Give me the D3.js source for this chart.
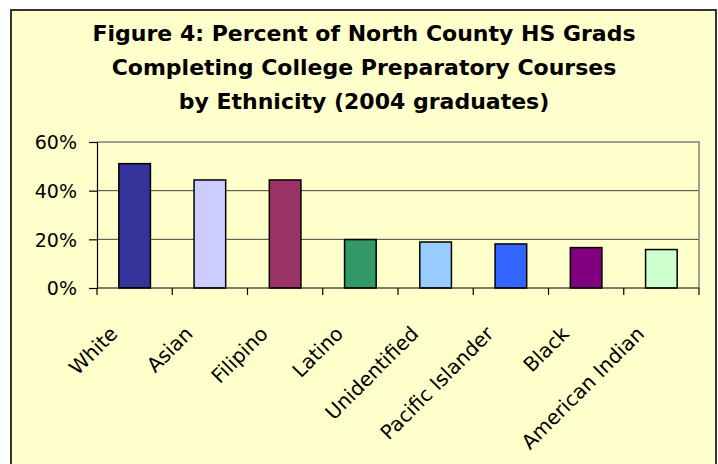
<!DOCTYPE html>
<html>
<head>
<meta charset="utf-8">
<script src="https://cdn.jsdelivr.net/npm/d3@7"></script>
<style>
  body { margin: 0; background: #fff; }
  svg { display: block; }
</style>
</head>
<body>
<svg id="chart"></svg>
<script>
// data
const groups = ["White", "Asian", "Filipino", "Latino", "Unidentified", "Pacific Islander", "Black", "American Indian"];
const percents = [51.1, 44.4, 44.4, 19.9, 18.9, 18.1, 16.6, 15.8];
const barColors = ["#333399", "#ccccff", "#993366", "#339966", "#99ccff", "#3366ff", "#800080", "#ccffcc"];
const yTicks = [0, 20, 40, 60];
const titleLines = [
    "Figure 4: Percent of North County HS Grads",
    "Completing College Preparatory Courses",
    "by Ethnicity (2004 graduates)"
];

const w = 718, h = 464;
const margin = { top: 142, right: 19, bottom: 176, left: 97 };
const fontFamily = "'DejaVu Sans', sans-serif";

const svg = d3.select("#chart")
    .attr("width", w)
    .attr("height", h);

// chart area background + frame
svg.append("rect")
    .attr("x", 11).attr("y", 10)
    .attr("width", 705).attr("height", 470)
    .attr("fill", "#ffffcc")
    .attr("stroke", "#333")
    .attr("stroke-width", 2);

// title
const title = svg.append("text")
    .attr("text-anchor", "middle")
    .style("font-family", fontFamily)
    .style("font-weight", "bold")
    .style("font-size", "22px")
    .attr("fill", "#000");

title.selectAll("tspan")
    .data(titleLines)
    .join("tspan")
    .attr("x", 364)
    .attr("y", (d, i) => 41 + i * 34)
    .text(d => d);

const xScale = d3.scaleBand()
    .domain(groups)
    .range([margin.left, w - margin.right])
    .paddingInner(0.58)
    .paddingOuter(0.29);

const yScale = d3.scaleLinear()
    .domain([0, 60])
    .range([h - margin.bottom, margin.top]);

const chart = svg.append("g");

// gridlines
chart.append("g")
    .selectAll("line")
    .data(yTicks.filter(t => t > 0 && t < 60))
    .join("line")
    .attr("x1", margin.left)
    .attr("x2", w - margin.right)
    .attr("y1", d => yScale(d))
    .attr("y2", d => yScale(d))
    .attr("stroke", "#444")
    .attr("stroke-width", 1);

// plot border (top and right)
chart.append("path")
    .attr("d", `M${margin.left},${yScale(60)}H${w - margin.right}V${yScale(0)}`)
    .attr("fill", "none")
    .attr("stroke", "#808080")
    .attr("stroke-width", 1.5);

// bars
chart.append("g")
    .selectAll("rect")
    .data(groups)
    .join("rect")
    .attr("x", d => xScale(d))
    .attr("y", (d, i) => yScale(percents[i]))
    .attr("width", xScale.bandwidth())
    .attr("height", (d, i) => yScale(0) - yScale(percents[i]))
    .attr("fill", (d, i) => barColors[i])
    .attr("stroke", "#000")
    .attr("stroke-width", 1.5);

// y axis
const yAxis = g => g
    .attr("transform", `translate(${margin.left},0)`)
    .call(d3.axisLeft(yScale).tickValues(yTicks).tickFormat(d => d + "%").tickSize(8).tickPadding(12))
    .call(g => g.selectAll("path, line").attr("stroke", "#000").attr("stroke-width", 1.2))
    .call(g => g.selectAll("text")
        .attr("fill", "#000")
        .attr("dy", "0.36em")
        .style("font-family", fontFamily)
        .style("font-size", "19px"));

svg.append("g").call(yAxis);

// x axis: ticks at band boundaries
const boundaries = d3.range(groups.length + 1).map(i => margin.left + i * (w - margin.left - margin.right) / groups.length);

const xAxisG = svg.append("g");
xAxisG.append("line")
    .attr("x1", margin.left).attr("x2", w - margin.right)
    .attr("y1", yScale(0)).attr("y2", yScale(0))
    .attr("stroke", "#000").attr("stroke-width", 1.2);

xAxisG.selectAll(".tick")
    .data(boundaries)
    .join("line")
    .attr("x1", d => d).attr("x2", d => d)
    .attr("y1", yScale(0)).attr("y2", yScale(0) + 7)
    .attr("stroke", "#000").attr("stroke-width", 1.2);

// rotated category labels
xAxisG.selectAll("text")
    .data(groups)
    .join("text")
    .attr("transform", d => `translate(${xScale(d) + xScale.bandwidth() / 2 - 16},${yScale(0) + 47}) rotate(-45)`)
    .attr("text-anchor", "end")
    .style("font-family", fontFamily)
    .style("font-size", "20px")
    .attr("fill", "#000")
    .text(d => d);
</script>
</body>
</html>
